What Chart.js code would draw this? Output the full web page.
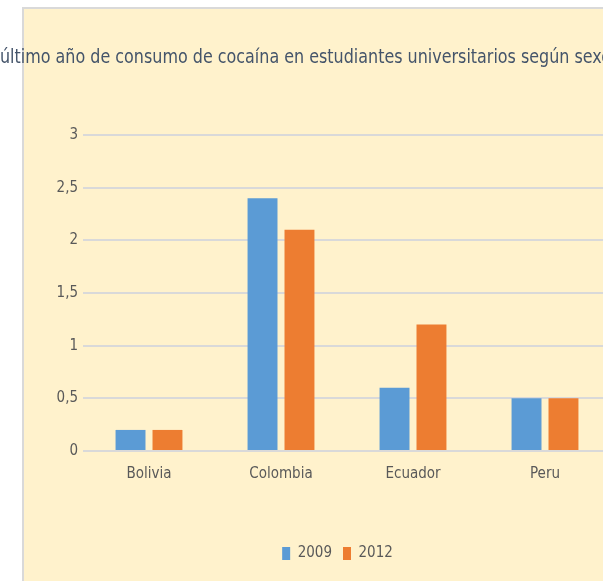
<!DOCTYPE html>
<html>
<head>
<meta charset="utf-8">
<script src="https://cdn.jsdelivr.net/npm/chart.js@4/dist/chart.umd.min.js"></script>
<style>
  html, body { margin: 0; padding: 0; background: #fff; overflow: hidden; }
  #wrap { position: absolute; left: 0; top: 0; width: 611px; height: 581px; }
</style>
</head>
<body>
<div id="wrap"><canvas id="chart" width="611" height="581"></canvas></div>
<script>
// ── data
const countries  = ['Bolivia', 'Colombia', 'Ecuador', 'Peru'];
const years      = ['2009', '2012'];
const values2009 = [0.2, 2.4, 0.6, 0.5];
const values2012 = [0.2, 2.1, 1.2, 0.5];
const yTicks     = [0, 0.5, 1, 1.5, 2, 2.5, 3];
const TITLE = 'último año de consumo de cocaína en estudiantes universitarios según sexo';

const FONT = "'Liberation Sans Narrow', 'DejaVu Sans Condensed', sans-serif";

// yellow panel with grey border, cut off by the window on the right / bottom
const panelBg = {
  id: 'panelBg',
  beforeDraw(chart) {
    const c = chart.ctx;
    c.save();
    c.fillStyle = '#FFF2CC';
    c.fillRect(23, 8, chart.width, chart.height);
    c.fillStyle = '#d9d9d9';
    c.fillRect(22, 7, chart.width, 2);
    c.fillRect(22, 7, 2, chart.height);
    c.restore();
  },
};

// the legend sits a bit right of the canvas centre in the original
const legendShift = {
  id: 'legendShift',
  afterLayout(chart) {
    const lg = chart.legend;
    if (!lg) return;
    lg.left += 32;
    lg.right += 32;
  },
};

new Chart(document.getElementById('chart'), {
  type: 'bar',
  data: {
    labels: countries,
    datasets: [
      { label: years[0], data: values2009, backgroundColor: '#5B9BD5' },
      { label: years[1], data: values2012, backgroundColor: '#ED7D31' },
    ],
  },
  options: {
    responsive: false,
    animation: false,
    categoryPercentage: 0.56,
    barPercentage: 0.81,
    layout: { padding: { left: 0, right: 0, top: 0, bottom: 10 } },
    scales: {
      x: {
        grid: { display: false },
        border: { display: false },
        ticks: { color: '#595959', font: { family: FONT, size: 15 }, padding: 6 },
        afterFit: s => { s.height = 84; },
      },
      y: {
        min: 0,
        max: 3,
        afterBuildTicks: s => { s.ticks = yTicks.map(v => ({ value: v })); },
        grid: { color: '#d9d9d9', lineWidth: 2, drawTicks: false },
        border: { display: false },
        ticks: {
          color: '#595959',
          font: { family: FONT, size: 15 },
          padding: 5,
          callback: v => String(v).replace('.', ','),
        },
        afterFit: s => { s.width = 83; },
      },
    },
    plugins: {
      title: {
        display: true,
        text: TITLE,
        color: '#44546A',
        font: { family: FONT, size: 20, weight: 'normal' },
        padding: { top: 46, bottom: 65 },
      },
      legend: {
        position: 'bottom',
        labels: {
          color: '#595959',
          font: { family: FONT, size: 15 },
          boxWidth: 8,
          boxHeight: 13,
          padding: 11,
        },
      },
      tooltip: { enabled: false },
    },
  },
  plugins: [panelBg, legendShift],
});
</script>
</body>
</html>
